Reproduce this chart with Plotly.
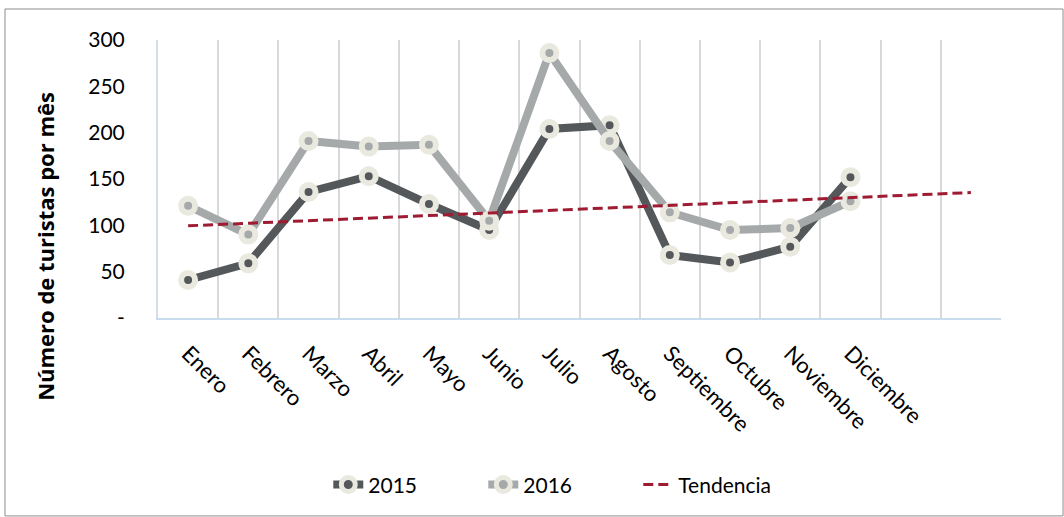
import plotly.graph_objects as go

meses = ["Enero", "Febrero", "Marzo", "Abril", "Mayo", "Junio", "Julio",
         "Agosto", "Septiembre", "Octubre", "Noviembre", "Diciembre"]
turistas_2015 = [41, 59, 136, 153, 123, 95, 204, 208, 68, 60, 77, 152]
turistas_2016 = [121, 90, 191, 185, 187, 105, 286, 191, 114, 95, 97, 126]
# linea de tendencia (2015), extendida 2 periodos hacia adelante
tendencia_pos = [0, 13]
tendencia = [99.5, 135.4]

y_ticks = [0, 50, 100, 150, 200, 250, 300]
y_ticktext = ["-", "50", "100", "150", "200", "250", "300"]

pos = list(range(len(meses)))
crema = "#e9e9df"
font = "Lato, 'Open Sans', sans-serif"

fig = go.Figure()
fig.add_trace(go.Scatter(
    x=pos, y=turistas_2015, name="2015", mode="lines+markers",
    line=dict(color="#55585a", width=8),
    marker=dict(color="#55585a", size=14, line=dict(color=crema, width=6)),
))
fig.add_trace(go.Scatter(
    x=pos, y=turistas_2016, name="2016", mode="lines+markers",
    line=dict(color="#a6a9aa", width=8),
    marker=dict(color="#a6a9aa", size=14, line=dict(color=crema, width=6)),
))
fig.add_trace(go.Scatter(
    x=tendencia_pos, y=tendencia, name="Tendencia", mode="lines",
    line=dict(color="#9e1b32", width=3, dash="10px,5px"),
))

fig.update_xaxes(
    range=[-0.5, 13.5], tickmode="array", tickvals=pos, ticktext=meses,
    tickangle=45, showgrid=False, zeroline=False,
    showline=True, linecolor="#c9dcee", linewidth=2, ticks="",
    ticklabelstandoff=12,
    tickfont=dict(family=font, size=22, color="#000"),
    minor=dict(tick0=-0.5, dtick=1, showgrid=True, gridcolor="#d9d9d9", gridwidth=2),
)
fig.update_yaxes(
    range=[0, 300], tickmode="array", tickvals=y_ticks, ticktext=y_ticktext,
    showgrid=False, zeroline=False,
    showline=True, linecolor="#d6dde6", linewidth=2, ticks="",
    ticklabelstandoff=27,
    tickfont=dict(family=font, size=21, color="#000"),
)

# titulo del eje Y (centrado como en el original, algo por debajo del area de trazado)
fig.add_annotation(
    text="<b>Número de turistas por mês</b>", textangle=-90,
    xref="paper", yref="paper", x=-0.134, y=0.256, xanchor="center", yanchor="middle",
    showarrow=False, font=dict(family="'Open Sans', sans-serif", size=22, color="#000"),
)

fig.add_shape(type="rect", xref="paper", yref="paper",
              x0=-0.1815, x1=1.0736, y0=-0.712, y1=1.1115,
              line=dict(color="#8c8c8c", width=1), layer="below")

fig.update_layout(
    width=1064, height=517,
    margin=dict(l=158, r=63, t=40, b=199),
    paper_bgcolor="white", plot_bgcolor="white",
    showlegend=True,
    legend=dict(orientation="h", x=0.202, xanchor="left", y=-0.6, yanchor="middle",
                font=dict(family=font, size=21, color="#000"),
                entrywidth=110, entrywidthmode="pixels"),
)

fig.write_html("out.html", config={"displayModeBar": False},
               post_script="document.body.style.margin='0';")
